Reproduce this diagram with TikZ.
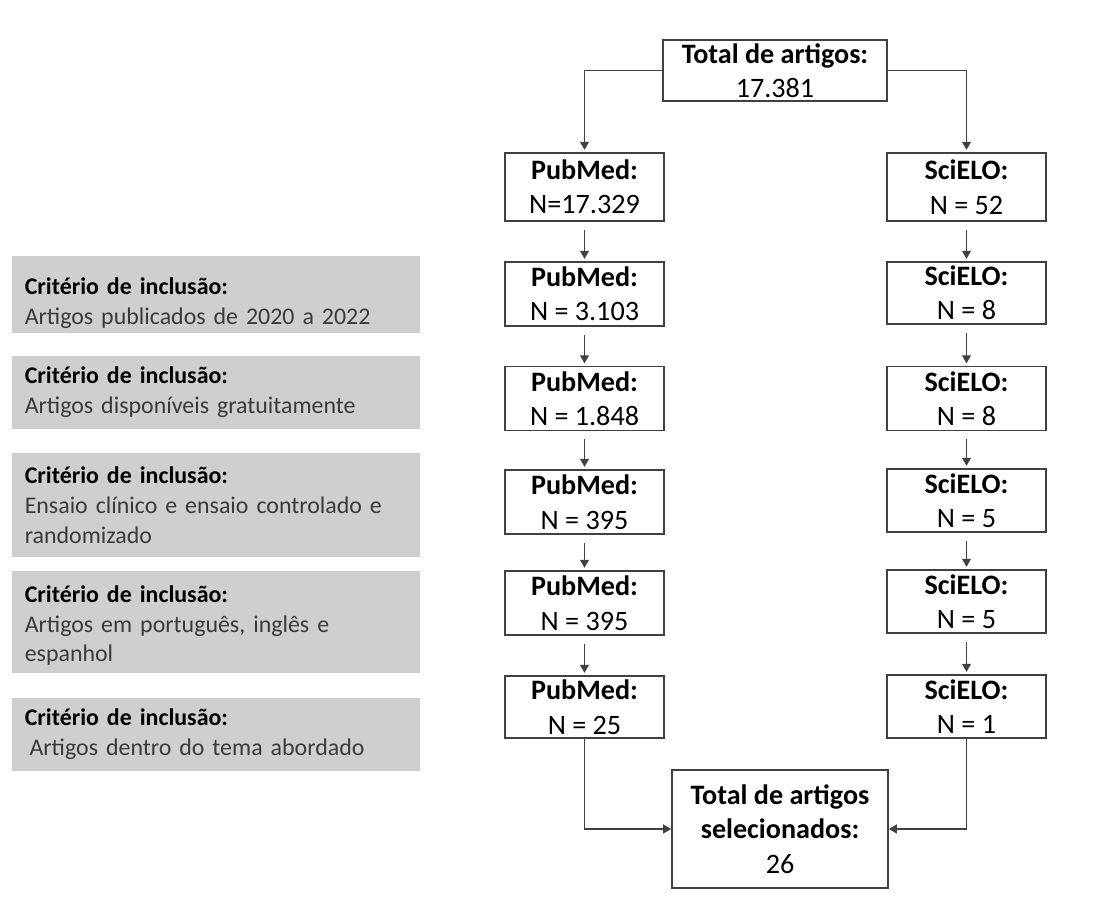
\documentclass[tikz,border=0pt]{standalone}
\usepackage{fontspec}
\setmainfont{Carlito}
\usetikzlibrary{arrows.meta}

\definecolor{critgray}{HTML}{D0CECE}
\definecolor{linegray}{HTML}{404040}
\definecolor{textgray}{HTML}{3A3A3A}

\tikzset{
    dbbox/.style={rectangle, draw=linegray, line width=1.1pt, align=center, inner sep=0pt,
        font=\fontsize{20}{24.5}\selectfont},
    critbox/.style={rectangle, fill=critgray, minimum width=102mm, align=left, inner xsep=3.2mm,
        text width=95.6mm, font=\fontsize{17}{21.3}\selectfont},
    flow/.style={draw=linegray, line width=1.1pt, -{Triangle[width=2.2mm, length=2mm]}},
    stepflow/.style={flow, shorten <=2mm, shorten >=0.6mm}
}

\begin{document}
\begin{tikzpicture}[x=0.025cm, y=-0.025cm]

        \useasboundingbox (0,0) rectangle (1115,914);

        % total
        \node[dbbox, minimum width=56mm, minimum height=15.25mm] (tot) at (775,70.5) {\textbf{Total de artigos:}\\17.381};

        % PubMed
        \node[dbbox, minimum width=39.75mm, minimum height=17mm] (pm1) at (584.5,187) {\textbf{PubMed:}\\N=17.329};
        \node[dbbox, minimum width=39.75mm, minimum height=16mm] (pm2) at (584.5,294) {\textbf{PubMed:}\\N = 3.103};
        \node[dbbox, minimum width=39.75mm, minimum height=16mm] (pm3) at (584.5,398.5) {\textbf{PubMed:}\\N = 1.848};
        \node[dbbox, minimum width=39.75mm, minimum height=16mm] (pm4) at (584.5,502) {\textbf{PubMed:}\\N = 395};
        \node[dbbox, minimum width=39.75mm, minimum height=16mm] (pm5) at (584.5,603) {\textbf{PubMed:}\\N = 395};
        \node[dbbox, minimum width=39.75mm, minimum height=15.5mm] (pm6) at (584.5,707) {\textbf{PubMed:}\\N = 25};

        % SciELO
        \node[dbbox, minimum width=39.75mm, minimum height=17mm] (sc1) at (966.5,187) {\textbf{SciELO:}\\N = 52};
        \node[dbbox, minimum width=39.75mm, minimum height=15.5mm] (sc2) at (966.5,293) {\textbf{SciELO:}\\N = 8};
        \node[dbbox, minimum width=39.75mm, minimum height=16mm] (sc3) at (966.5,398.5) {\textbf{SciELO:}\\N = 8};
        \node[dbbox, minimum width=39.75mm, minimum height=15.75mm] (sc4) at (966.5,500.5) {\textbf{SciELO:}\\N = 5};
        \node[dbbox, minimum width=39.75mm, minimum height=15.75mm] (sc5) at (966.5,601.5) {\textbf{SciELO:}\\N = 5};
        \node[dbbox, minimum width=39.75mm, minimum height=15.75mm] (sc6) at (966.5,706.5) {\textbf{SciELO:}\\N = 1};

        % selecionados
        \node[dbbox, minimum width=54mm, minimum height=29.5mm] (fin) at (780,829) {\textbf{Total de artigos}\\\textbf{selecionados:}\\26};

        % criterios
        \node[critbox, minimum height=18.25mm] (crit1) at (216,294.5) {\rule{0pt}{24pt}\textbf{Critério de inclusão:}\\\textcolor{textgray}{Artigos publicados de 2020 a 2022}};
        \node[critbox, minimum height=18.25mm] (crit2) at (216,392.5) {\textbf{Critério de inclusão:}\\\textcolor{textgray}{Artigos disponíveis gratuitamente}};
        \node[critbox, minimum height=26mm] (crit3) at (216,505) {\textbf{Critério de inclusão:}\\\textcolor{textgray}{Ensaio clínico e ensaio controlado e}\\\textcolor{textgray}{randomizado}};
        \node[critbox, minimum height=25.5mm] (crit4) at (216,622) {\rule{0pt}{17pt}\textbf{Critério de inclusão:}\\\textcolor{textgray}{Artigos em português, inglês e}\\\textcolor{textgray}{espanhol}};
        \node[critbox, minimum height=18.25mm] (crit5) at (216,734.5) {\textbf{Critério de inclusão:}\\\textcolor{textgray}{\hspace{1.2mm}Artigos dentro do tema abordado}};

        % arrows
        \draw[flow, shorten >=0.6mm] (tot.west) -| (pm1.north);
        \draw[flow, shorten >=0.6mm] (tot.east) -| (sc1.north);

        \draw[stepflow] (pm1) -- (pm2);
        \draw[stepflow] (pm2) -- (pm3);
        \draw[stepflow] (pm3) -- (pm4);
        \draw[stepflow] (pm4) -- (pm5);
        \draw[stepflow] (pm5) -- (pm6);

        \draw[stepflow] (sc1) -- (sc2);
        \draw[stepflow] (sc2) -- (sc3);
        \draw[stepflow] (sc3) -- (sc4);
        \draw[stepflow] (sc4) -- (sc5);
        \draw[stepflow] (sc5) -- (sc6);

        \draw[flow] (pm6.south) |- (fin.west);
        \draw[flow] (sc6.south) |- (fin.east);
    \end{tikzpicture}
\end{document}
